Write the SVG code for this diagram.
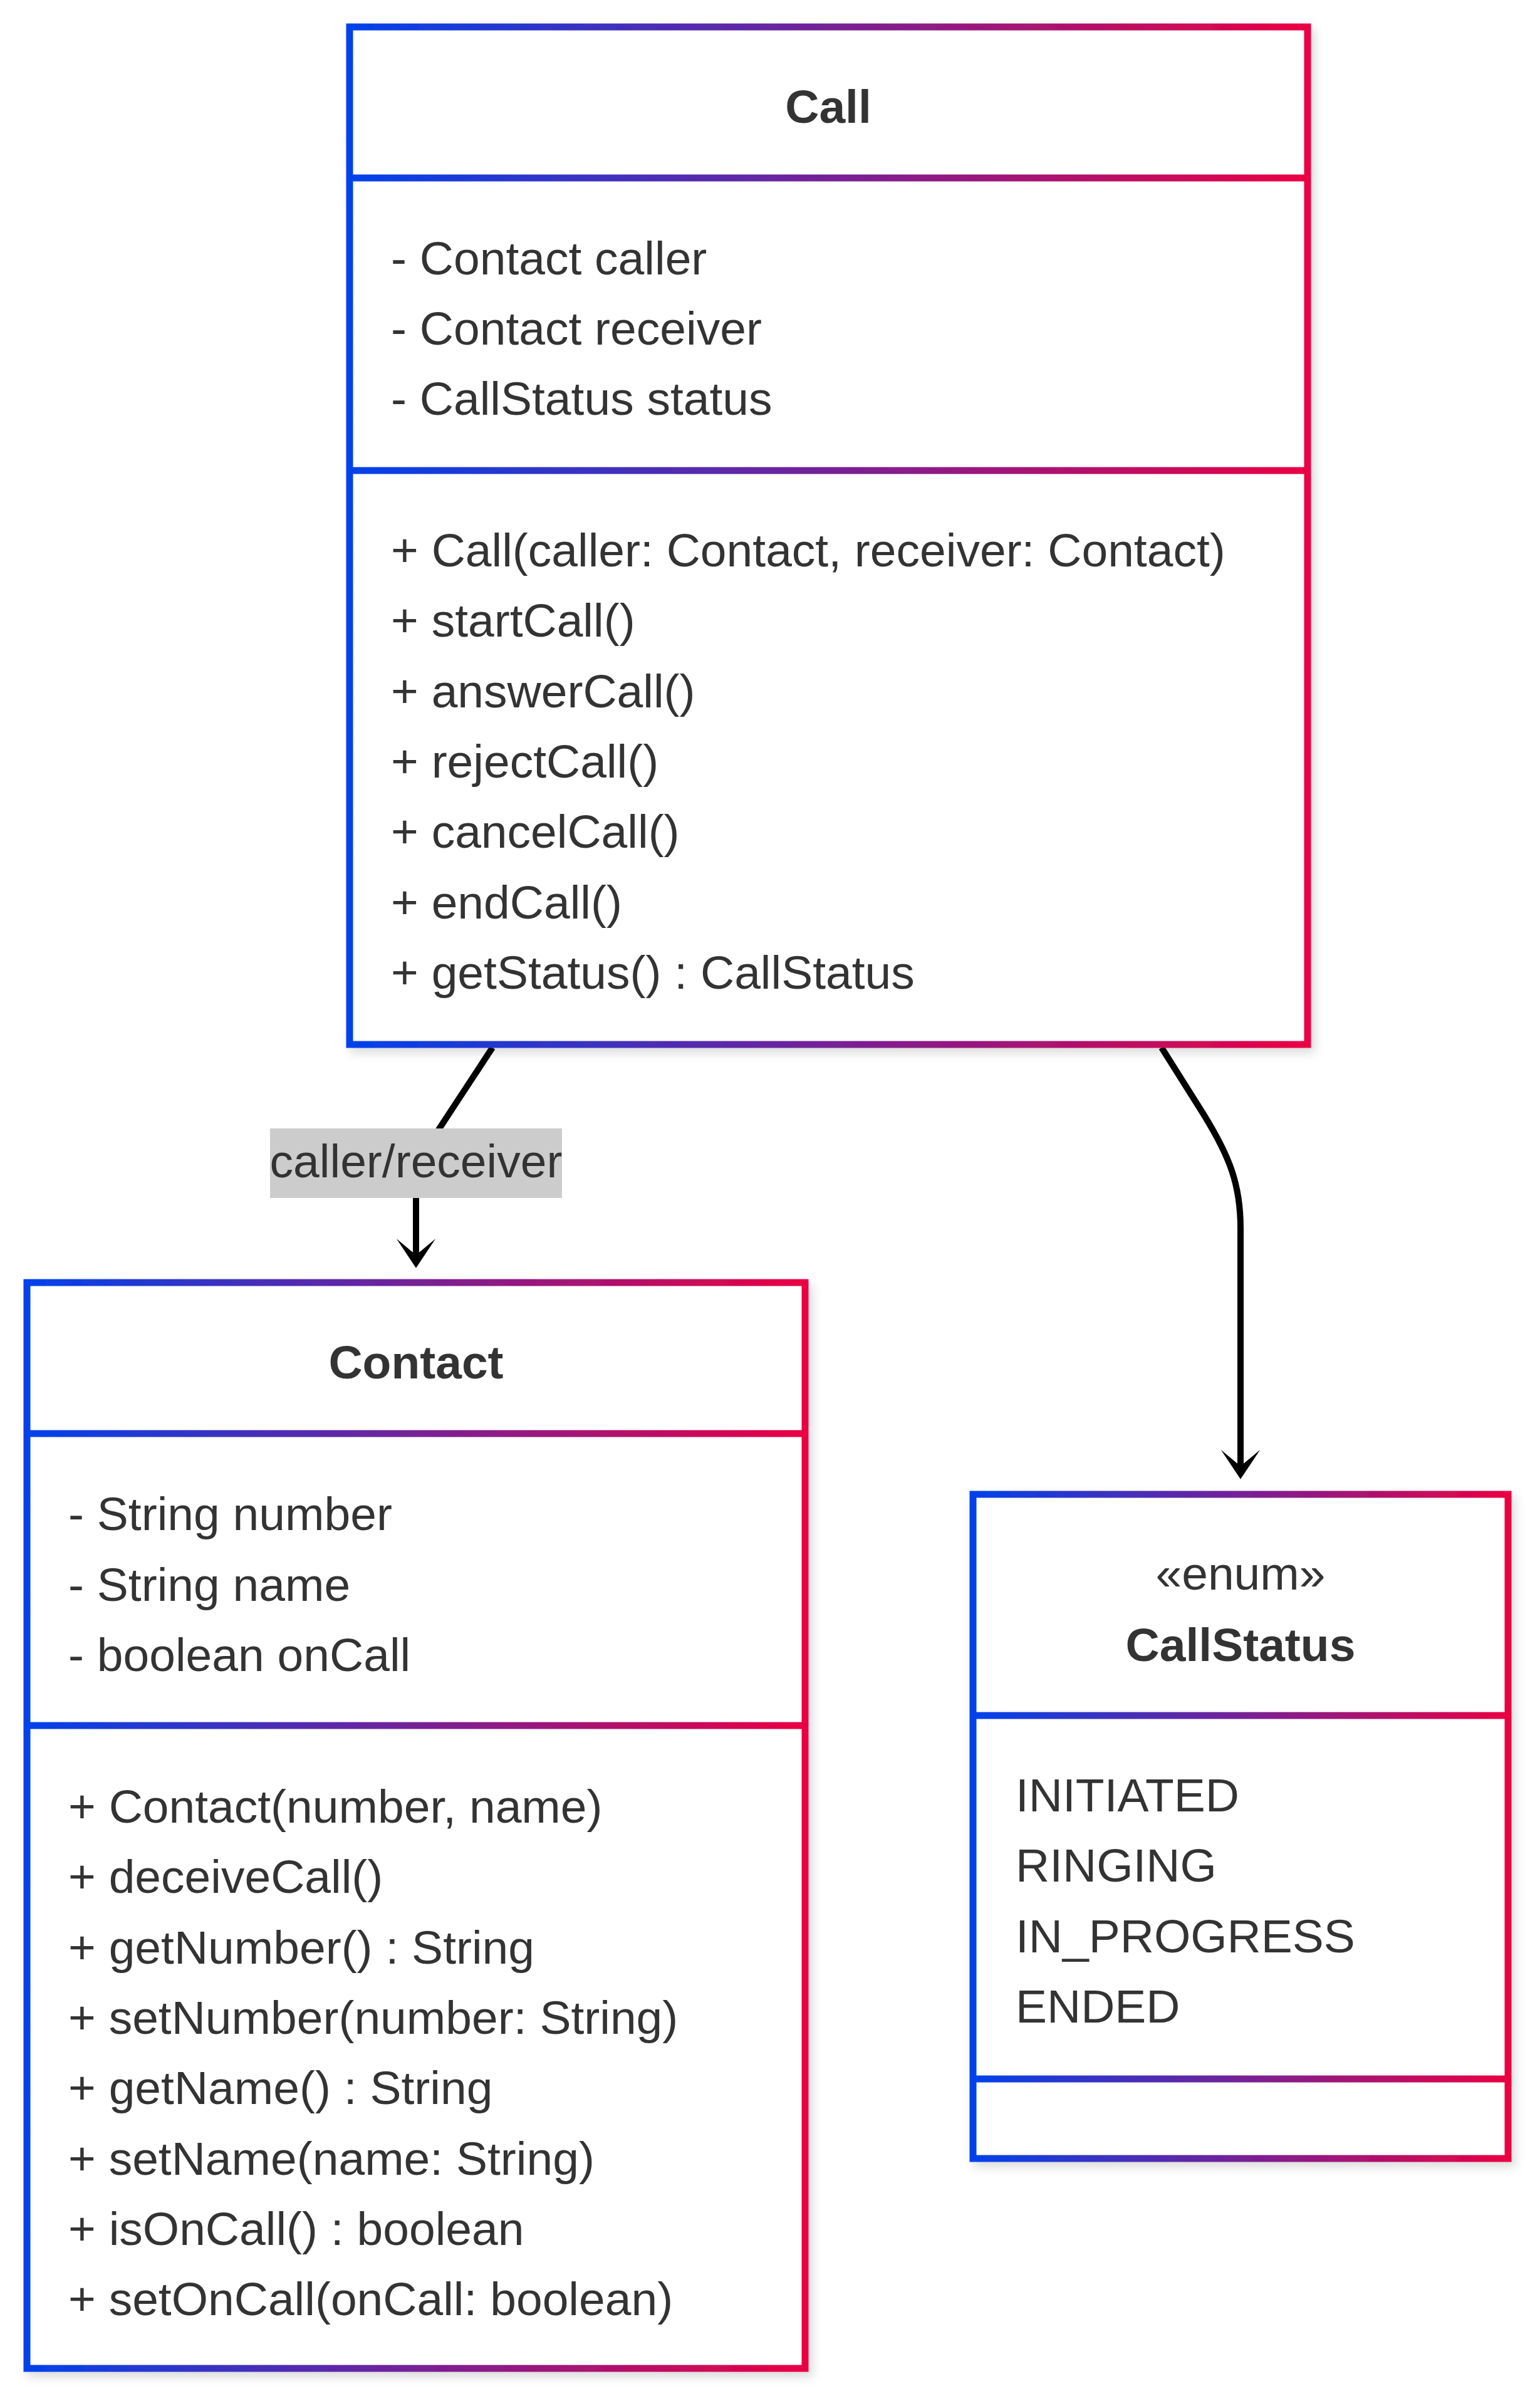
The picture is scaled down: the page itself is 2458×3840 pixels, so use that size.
<svg xmlns="http://www.w3.org/2000/svg" width="2458" height="3840" viewBox="0 0 2458 3840">
<defs>
<style>
.t{font-family:"Liberation Sans",Arial,Helvetica,sans-serif;font-size:75px;fill:#333333;}
.b{font-weight:bold;}
.m{text-anchor:middle;}
.box{fill:#ffffff;stroke-width:11;filter:url(#sh);}
.div{stroke-width:11;}
.edge{fill:none;stroke:#000000;stroke-width:10;}
</style>
<linearGradient id="gCall" gradientUnits="userSpaceOnUse" x1="553" y1="0" x2="2093" y2="0"><stop offset="0" stop-color="#0042eb"/><stop offset="1" stop-color="#eb0042"/></linearGradient>
<linearGradient id="gContact" gradientUnits="userSpaceOnUse" x1="38" y1="0" x2="1290" y2="0"><stop offset="0" stop-color="#0042eb"/><stop offset="1" stop-color="#eb0042"/></linearGradient>
<linearGradient id="gStatus" gradientUnits="userSpaceOnUse" x1="1548" y1="0" x2="2412" y2="0"><stop offset="0" stop-color="#0042eb"/><stop offset="1" stop-color="#eb0042"/></linearGradient>
<filter id="sh" x="-10%" y="-10%" width="120%" height="120%"><feDropShadow dx="6" dy="8" stdDeviation="8" flood-color="#000000" flood-opacity="0.14"/></filter>
<marker id="arr" viewBox="0 0 20 14" refX="14" refY="7" markerWidth="104" markerHeight="72.8" markerUnits="userSpaceOnUse" orient="auto"><path d="M 18,7 L9,13 L14,7 L9,1 Z" fill="#000000"/></marker>
</defs>
<rect width="2458" height="3840" fill="#ffffff"/>
<g id="connectors">
<path class="edge" d="M786,1672 L700,1803 C680,1834 664,1860 664,1900 L664,2003" marker-end="url(#arr)"/>
<rect x="431" y="1801" width="466" height="111" fill="#cccccc"/>
<text class="t m" x="664" y="1879">caller/receiver</text>
<path class="edge" d="M1854,1672 L1922,1780 C1962,1845 1980,1890 1980,1960 L1980,2340" marker-end="url(#arr)"/>
</g>
<g id="node-Call">
<rect class="box" x="558" y="43" width="1529" height="1624" stroke="url(#gCall)"/>
<line class="div" x1="558" y1="284" x2="2087" y2="284" stroke="url(#gCall)"/>
<line class="div" x1="558" y1="751" x2="2087" y2="751" stroke="url(#gCall)"/>
<text class="t b m" x="1322" y="196">Call</text>
<text class="t" x="624" y="438">- Contact caller</text>
<text class="t" x="624" y="550">- Contact receiver</text>
<text class="t" x="624" y="662">- CallStatus status</text>
<text class="t" x="624" y="904">+ Call(caller: Contact, receiver: Contact)</text>
<text class="t" x="624" y="1016">+ startCall()</text>
<text class="t" x="624" y="1129">+ answerCall()</text>
<text class="t" x="624" y="1241">+ rejectCall()</text>
<text class="t" x="624" y="1353">+ cancelCall()</text>
<text class="t" x="624" y="1466">+ endCall()</text>
<text class="t" x="624" y="1578">+ getStatus() : CallStatus</text>
</g>
<g id="node-Contact">
<rect class="box" x="43" y="2047" width="1242" height="1733" stroke="url(#gContact)"/>
<line class="div" x1="43" y1="2288" x2="1285" y2="2288" stroke="url(#gContact)"/>
<line class="div" x1="43" y1="2754" x2="1285" y2="2754" stroke="url(#gContact)"/>
<text class="t b m" x="664" y="2200">Contact</text>
<text class="t" x="109" y="2442">- String number</text>
<text class="t" x="109" y="2555">- String name</text>
<text class="t" x="109" y="2667">- boolean onCall</text>
<text class="t" x="109" y="2909">+ Contact(number, name)</text>
<text class="t" x="109" y="3021">+ deceiveCall()</text>
<text class="t" x="109" y="3134">+ getNumber() : String</text>
<text class="t" x="109" y="3246">+ setNumber(number: String)</text>
<text class="t" x="109" y="3358">+ getName() : String</text>
<text class="t" x="109" y="3471">+ setName(name: String)</text>
<text class="t" x="109" y="3583">+ isOnCall() : boolean</text>
<text class="t" x="109" y="3695">+ setOnCall(onCall: boolean)</text>
</g>
<g id="node-CallStatus">
<rect class="box" x="1553" y="2385" width="854" height="1060" stroke="url(#gStatus)"/>
<line class="div" x1="1553" y1="2738" x2="2407" y2="2738" stroke="url(#gStatus)"/>
<line class="div" x1="1553" y1="3318" x2="2407" y2="3318" stroke="url(#gStatus)"/>
<text class="t m" x="1980" y="2537">«enum»</text>
<text class="t b m" x="1980" y="2651">CallStatus</text>
<text class="t" x="1621" y="2891">INITIATED</text>
<text class="t" x="1621" y="3003">RINGING</text>
<text class="t" x="1621" y="3116">IN_PROGRESS</text>
<text class="t" x="1621" y="3228">ENDED</text>
</g>
</svg>
